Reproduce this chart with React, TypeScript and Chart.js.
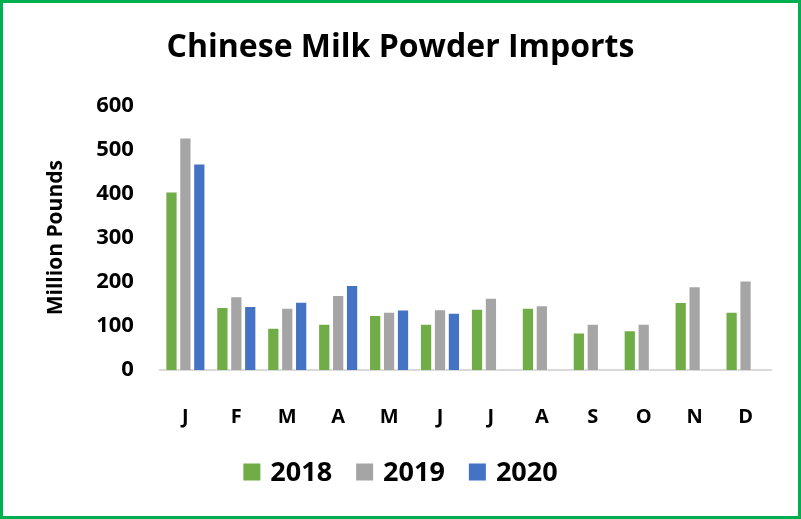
import React, { useEffect, useRef } from "react";
import { Chart, registerables } from "chart.js";

Chart.register(...registerables);

const months = ["J", "F", "M", "A", "M", "J", "J", "A", "S", "O", "N", "D"];
const s2018 = [405, 143, 96, 105, 125, 105, 139, 141, 85, 90, 154, 132];
const s2019 = [527, 167, 141, 170, 132, 138, 164, 147, 105, 105, 190, 203];
const s2020 = [468, 145, 155, 193, 137, 130, null, null, null, null, null, null];
const yTicks = [0, 100, 200, 300, 400, 500, 600];

const FONT = "'Open Sans', 'Noto Sans', sans-serif";

const bottomLegend = {
  id: "bottomLegend",
  afterDraw(chart: any) {
    const ctx = chart.ctx;
    const box = 17;
    const gapBoxText = 10;
    const gapItems = 24;
    const cy = 469;
    ctx.save();
    ctx.font = `bold 27px ${FONT}`;
    ctx.textBaseline = "middle";
    ctx.textAlign = "left";
    const items = chart.data.datasets.map((d: any) => ({
      label: d.label,
      color: d.backgroundColor,
      w: ctx.measureText(d.label).width,
    }));
    const total =
      items.reduce((s: number, it: any) => s + box + gapBoxText + it.w, 0) +
      gapItems * (items.length - 1);
    let x = chart.width / 2 - total / 2;
    for (const it of items) {
      ctx.fillStyle = it.color;
      ctx.fillRect(x, cy - box / 2, box, box);
      x += box + gapBoxText;
      ctx.fillStyle = "#000";
      ctx.fillText(it.label, x, cy + 1);
      x += it.w + gapItems;
    }
    ctx.restore();
  },
};

export default function App() {
  const ref = useRef<HTMLCanvasElement | null>(null);
  useEffect(() => {
    document.body.style.margin = "0";
    const ctx = ref.current!;
    const mk = (label: string, data: any[], color: string) => ({
      label,
      data,
      backgroundColor: color,
      borderColor: "rgba(255,255,255,0.6)",
      borderWidth: 1,
      barPercentage: 0.88,
      categoryPercentage: 0.82,
    });
    const chart = new Chart(ctx, {
      type: "bar",
      data: {
        labels: months,
        datasets: [
          mk("2018", s2018, "#70AD47"),
          mk("2019", s2019, "#A5A5A5"),
          mk("2020", s2020, "#4472C4"),
        ],
      },
      plugins: [bottomLegend],
      options: {
        animation: false,
        responsive: false,
        maintainAspectRatio: false,
        layout: { padding: { left: 27, right: 27, top: 14, bottom: 52 } },
        plugins: {
          title: {
            display: true,
            text: "Chinese Milk Powder Imports",
            color: "#000",
            font: { family: FONT, size: 32, weight: "bold" },
            padding: { top: 12, bottom: 38 },
          },
          legend: { display: false },
          tooltip: { enabled: false },
        },
        scales: {
          x: {
            grid: { display: false, drawTicks: false },
            border: { display: true, color: "#D9D9D9", width: 2 },
            ticks: {
              color: "#000",
              font: { family: FONT, size: 20, weight: "bold" },
              padding: 35,
            },
          },
          y: {
            min: 0,
            max: 600,
            afterBuildTicks: (axis: any) => {
              axis.ticks = yTicks.map((v) => ({ value: v }));
            },
            grid: { display: false, drawTicks: false },
            border: { display: false },
            ticks: {
              color: "#000",
              font: { family: FONT, size: 22, weight: "bold" },
              padding: 26,
            },
            title: {
              display: true,
              text: "Million Pounds",
              color: "#000",
              font: { family: FONT, size: 21, weight: "bold" },
              padding: { top: 13, bottom: 2 },
            },
          },
        },
      },
    });
    return () => chart.destroy();
  }, []);
  return (
    <div
      style={{
        position: "absolute",
        left: 0,
        top: 0,
        width: 801,
        height: 519,
        boxSizing: "border-box",
        border: "3px solid #00B050",
        background: "#fff",
      }}
    >
      <canvas ref={ref} width={795} height={513} style={{ display: "block" }} />
    </div>
  );
}
